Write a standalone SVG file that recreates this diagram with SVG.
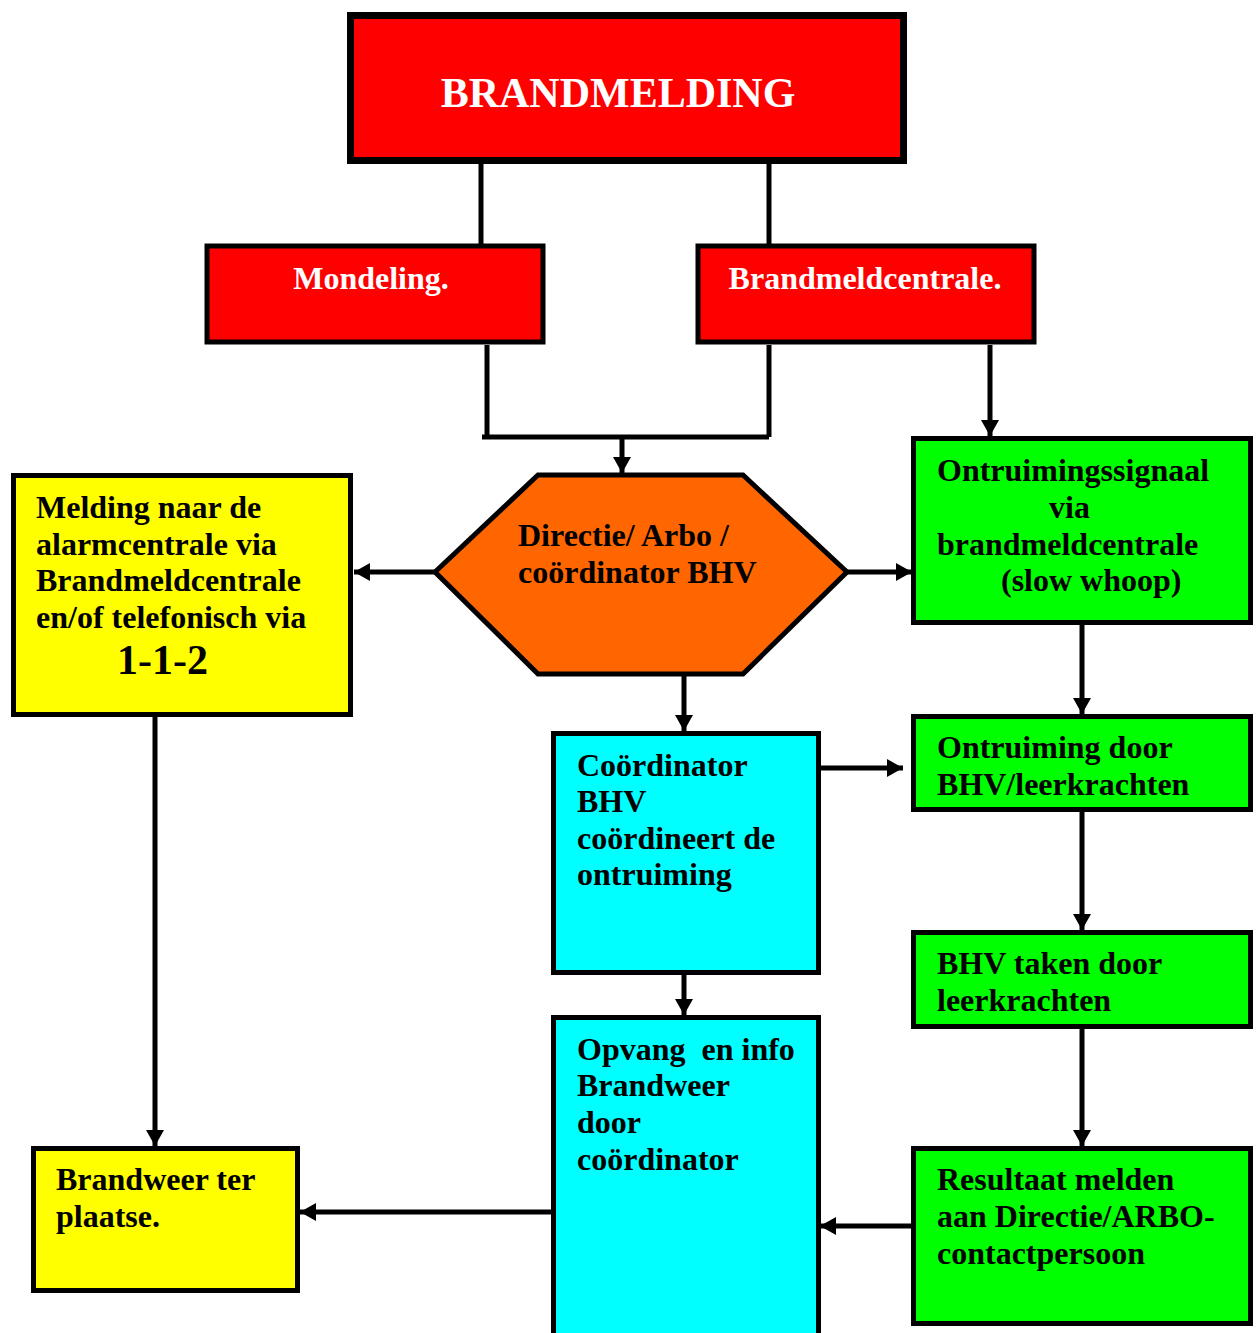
<svg xmlns="http://www.w3.org/2000/svg" width="1256" height="1333" viewBox="0 0 1256 1333">
<style>
.box{stroke:#000;stroke-width:5}
.t{font-family:"Liberation Serif","Times New Roman",serif;font-weight:bold;font-size:32px;fill:#000}
.w{fill:#fff}
.c{fill:none;stroke:#000;stroke-width:5}
.red{fill:#ff0000}.yel{fill:#ffff00}.grn{fill:#00ff00}.cyn{fill:#00ffff}.org{fill:#ff6600}
</style>
<defs>
<marker id="ah" markerUnits="userSpaceOnUse" markerWidth="18" markerHeight="18" refX="16" refY="9" orient="auto">
<path d="M0,0 L16,9 L0,18 z" fill="#000"/>
</marker>
</defs>
<rect width="1256" height="1333" fill="#fff"/>
<g id="connectors">
<line class="c" x1="481" y1="163" x2="481" y2="245"/>
<line class="c" x1="769" y1="163" x2="769" y2="245"/>
<polyline class="c" points="487,345 487,437"/>
<polyline class="c" points="769,345 769,437"/>
<line class="c" x1="482" y1="437" x2="769" y2="437"/>
<line class="c" x1="622" y1="437" x2="622" y2="473" marker-end="url(#ah)"/>
<line class="c" x1="990" y1="345" x2="990" y2="436" marker-end="url(#ah)"/>
<line class="c" x1="435" y1="572" x2="354" y2="572" marker-end="url(#ah)"/>
<line class="c" x1="847" y1="572" x2="912" y2="572" marker-end="url(#ah)"/>
<line class="c" x1="684" y1="674" x2="684" y2="731" marker-end="url(#ah)"/>
<line class="c" x1="1082" y1="625" x2="1082" y2="714" marker-end="url(#ah)"/>
<line class="c" x1="821" y1="768" x2="903" y2="768" marker-end="url(#ah)"/>
<line class="c" x1="1082" y1="812" x2="1082" y2="930" marker-end="url(#ah)"/>
<line class="c" x1="684" y1="975" x2="684" y2="1015" marker-end="url(#ah)"/>
<line class="c" x1="1082" y1="1029" x2="1082" y2="1146" marker-end="url(#ah)"/>
<line class="c" x1="911" y1="1226" x2="820" y2="1226" marker-end="url(#ah)"/>
<line class="c" x1="155" y1="717" x2="155" y2="1146" marker-end="url(#ah)"/>
<line class="c" x1="551" y1="1212" x2="300" y2="1212" marker-end="url(#ah)"/>
</g>
<g id="brandmelding">
<rect class="box red" style="stroke-width:7" x="350.5" y="15.5" width="553" height="145"/>
<text class="t w" style="font-size:42px" x="618" y="107" text-anchor="middle">BRANDMELDING</text>
</g>
<g id="mondeling">
<rect class="box red" x="207" y="246" width="336" height="96"/>
<text class="t w" x="371" y="289" text-anchor="middle">Mondeling.</text>
</g>
<g id="brandmeldcentrale">
<rect class="box red" x="698" y="246" width="336" height="96"/>
<text class="t w" x="865" y="289" text-anchor="middle">Brandmeldcentrale.</text>
</g>
<g id="directie">
<polygon class="box org" points="435,572 538,475 743,475 847,572 743,674 538,674"/>
<text class="t" x="518" y="546">Directie/ Arbo /</text>
<text class="t" x="518" y="583">coördinator BHV</text>
</g>
<g id="melding">
<rect class="box yel" x="13.5" y="475.5" width="337" height="239"/>
<text class="t" x="36" y="518">Melding naar de</text>
<text class="t" x="36" y="555">alarmcentrale via</text>
<text class="t" x="36" y="591">Brandmeldcentrale</text>
<text class="t" x="36" y="628">en/of telefonisch via</text>
<text class="t" style="font-size:42px" x="117" y="674">1-1-2</text>
</g>
<g id="ontruimingssignaal">
<rect class="box grn" x="913.5" y="438.5" width="337" height="184"/>
<text class="t" x="937" y="481">Ontruimingssignaal</text>
<text class="t" x="1049" y="518">via</text>
<text class="t" x="937" y="555">brandmeldcentrale</text>
<text class="t" x="1001" y="591">(slow whoop)</text>
</g>
<g id="ontruiming">
<rect class="box grn" x="913.5" y="716.5" width="337" height="93"/>
<text class="t" x="937" y="758">Ontruiming door</text>
<text class="t" x="937" y="795">BHV/leerkrachten</text>
</g>
<g id="bhvtaken">
<rect class="box grn" x="913.5" y="932.5" width="337" height="94"/>
<text class="t" x="937" y="974">BHV taken door</text>
<text class="t" x="937" y="1011">leerkrachten</text>
</g>
<g id="resultaat">
<rect class="box grn" x="913.5" y="1148.5" width="337" height="175"/>
<text class="t" x="937" y="1190">Resultaat melden</text>
<text class="t" x="937" y="1227">aan Directie/ARBO-</text>
<text class="t" x="937" y="1264">contactpersoon</text>
</g>
<g id="coordinator">
<rect class="box cyn" x="553.5" y="733.5" width="265" height="239"/>
<text class="t" x="577" y="776">Coördinator</text>
<text class="t" x="577" y="812">BHV</text>
<text class="t" x="577" y="849">coördineert de</text>
<text class="t" x="577" y="885">ontruiming</text>
</g>
<g id="opvang">
<rect class="box cyn" x="553.5" y="1017.5" width="265" height="330"/>
<text class="t" x="577" y="1060" xml:space="preserve">Opvang  en info</text>
<text class="t" x="577" y="1096">Brandweer</text>
<text class="t" x="577" y="1133">door</text>
<text class="t" x="577" y="1170">coördinator</text>
</g>
<g id="brandweer">
<rect class="box yel" x="33.5" y="1148.5" width="264" height="142"/>
<text class="t" x="56" y="1190">Brandweer ter</text>
<text class="t" x="56" y="1227">plaatse.</text>
</g>
</svg>
